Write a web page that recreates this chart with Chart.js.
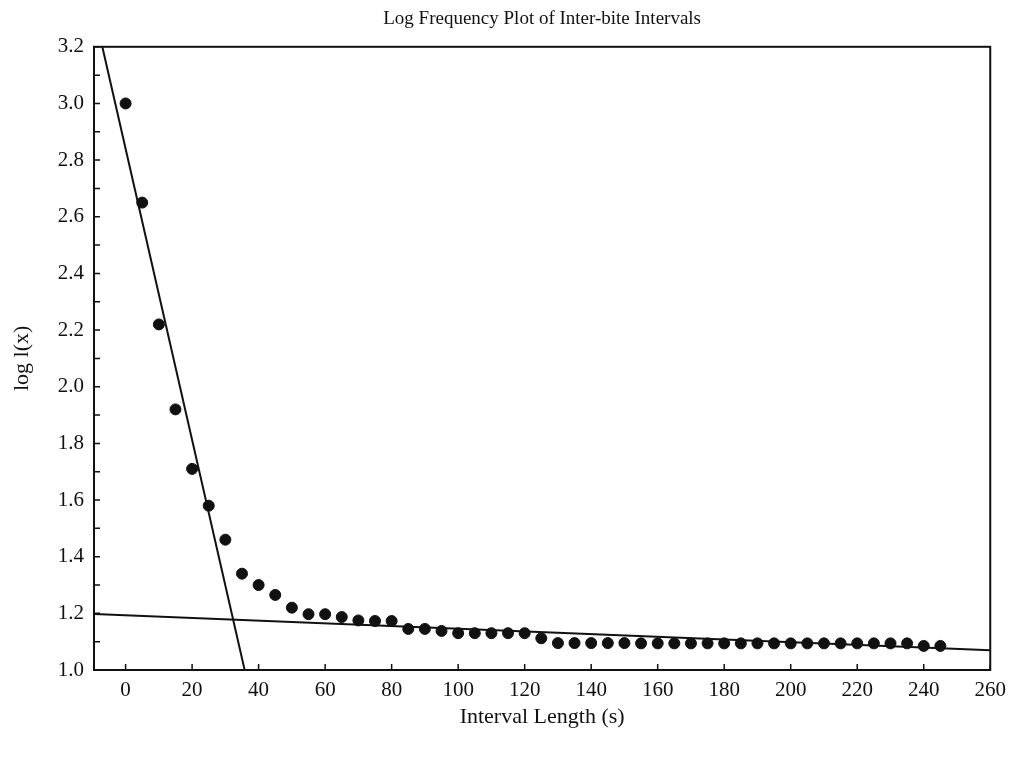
<!DOCTYPE html>
<html>
<head>
    <meta charset="UTF-8">
    <title>Log Frequency Plot of Inter-bite Intervals</title>
    <script src="https://cdn.jsdelivr.net/npm/chart.js"></script>
    <style>
        html, body { margin: 0; padding: 0; background: #fff; }
        #wrap { width: 1014px; height: 757px; }
    </style>
</head>
<body>
    <div id="wrap"><canvas id="myChart" width="1014" height="757"></canvas></div>

    <script>
        // interval length (s) and log l(x)
        const intervals = [0, 5, 10, 15, 20, 25, 30, 35, 40, 45, 50, 55, 60, 65, 70, 75, 80, 85, 90, 95,
            100, 105, 110, 115, 120, 125, 130, 135, 140, 145, 150, 155, 160, 165, 170, 175, 180, 185, 190, 195,
            200, 205, 210, 215, 220, 225, 230, 235, 240, 245];
        const logValues = [3.00, 2.65, 2.22, 1.92, 1.71, 1.58, 1.46, 1.34, 1.30, 1.265, 1.22, 1.197, 1.197, 1.187, 1.175, 1.173, 1.173, 1.145, 1.145, 1.138,
            1.13, 1.13, 1.13, 1.13, 1.13, 1.112, 1.095, 1.095, 1.095, 1.095, 1.095, 1.094, 1.094, 1.094, 1.094, 1.094, 1.094, 1.094, 1.094, 1.094,
            1.094, 1.094, 1.094, 1.094, 1.094, 1.094, 1.094, 1.094, 1.085, 1.085];

        // the two fitted lines (end points)
        const steepFitX = [-7, 35.8];
        const steepFitY = [3.2, 1.0];
        const flatFitX = [-9.5, 260];
        const flatFitY = [1.198, 1.07];

        const xTicks = [0, 20, 40, 60, 80, 100, 120, 140, 160, 180, 200, 220, 240, 260];
        const yTicks = [1.0, 1.2, 1.4, 1.6, 1.8, 2.0, 2.2, 2.4, 2.6, 2.8, 3.0, 3.2];
        const yMinorTicks = [1.1, 1.3, 1.5, 1.7, 1.9, 2.1, 2.3, 2.5, 2.7, 2.9, 3.1];

        const ink = '#111';
        const serif = "'Liberation Serif', 'DejaVu Serif', serif";

        const toPts = (xs, ys) => xs.map((x, i) => ({ x: x, y: ys[i] }));

        // frame round the plot plus inward tick marks
        const frame = {
            id: 'frame',
            afterDraw(chart) {
                const c = chart.ctx, a = chart.chartArea;
                const xs = chart.scales.x, ys = chart.scales.y;
                c.save();
                c.strokeStyle = ink;
                c.lineWidth = 2;
                c.strokeRect(a.left, a.top, a.right - a.left, a.bottom - a.top);
                c.lineWidth = 1.5;
                c.beginPath();
                xTicks.forEach(v => {
                    const px = xs.getPixelForValue(v);
                    c.moveTo(px, a.bottom); c.lineTo(px, a.bottom - 6);
                });
                yTicks.concat(yMinorTicks).forEach(v => {
                    const py = ys.getPixelForValue(v);
                    c.moveTo(a.left, py); c.lineTo(a.left + 6, py);
                });
                c.stroke();
                c.restore();
            }
        };

        const ctx = document.getElementById('myChart').getContext('2d');
        new Chart(ctx, {
            type: 'scatter',
            data: {
                datasets: [
                    {
                        label: 'log l(x)',
                        data: toPts(intervals, logValues),
                        backgroundColor: ink,
                        borderColor: ink,
                        pointRadius: 5.5,
                        pointHoverRadius: 5.5
                    },
                    {
                        label: 'fast fit',
                        data: toPts(steepFitX, steepFitY),
                        showLine: true,
                        borderColor: ink,
                        borderWidth: 2,
                        pointRadius: 0
                    },
                    {
                        label: 'slow fit',
                        data: toPts(flatFitX, flatFitY),
                        showLine: true,
                        borderColor: ink,
                        borderWidth: 2,
                        pointRadius: 0
                    }
                ]
            },
            options: {
                responsive: false,
                animation: false,
                clip: true,
                layout: { padding: { left: 0, right: 22, top: 0, bottom: 0 } },
                plugins: {
                    legend: { display: false },
                    tooltip: { enabled: false },
                    title: {
                        display: true,
                        fullSize: false,
                        text: 'Log Frequency Plot of Inter-bite Intervals',
                        color: ink,
                        font: { family: serif, size: 19, weight: 'normal' },
                        padding: { top: 8, bottom: 16 }
                    }
                },
                scales: {
                    x: {
                        type: 'linear',
                        min: -9.5,
                        max: 260,
                        afterBuildTicks: s => { s.ticks = xTicks.map(v => ({ value: v })); },
                        afterFit: s => { s.height = 87; },
                        grid: { display: false, drawTicks: false },
                        border: { display: false },
                        ticks: {
                            color: ink,
                            padding: 8,
                            maxRotation: 0,
                            autoSkip: false,
                            font: { family: serif, size: 21 }
                        },
                        title: {
                            display: true,
                            text: 'Interval Length (s)',
                            color: ink,
                            font: { family: serif, size: 22 },
                            padding: { top: 0, bottom: 27 }
                        }
                    },
                    y: {
                        type: 'linear',
                        min: 1.0,
                        max: 3.2,
                        afterBuildTicks: s => { s.ticks = yTicks.map(v => ({ value: v })); },
                        afterFit: s => { s.width = 94; },
                        grid: { display: false, drawTicks: false },
                        border: { display: false },
                        ticks: {
                            color: ink,
                            padding: 10,
                            autoSkip: false,
                            font: { family: serif, size: 21 },
                            callback: v => v.toFixed(1)
                        },
                        title: {
                            display: true,
                            text: 'log l(x)',
                            color: ink,
                            font: { family: serif, size: 22 },
                            padding: { top: 9, bottom: 0 }
                        }
                    }
                }
            },
            plugins: [frame]
        });
    </script>
</body>
</html>
